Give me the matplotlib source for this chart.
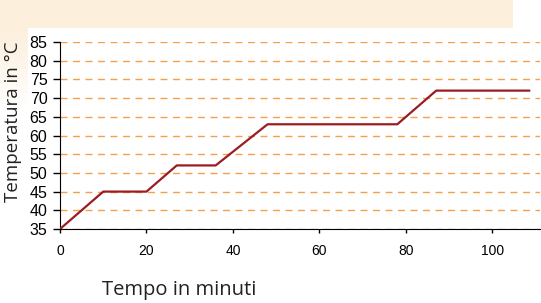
import numpy as np
import matplotlib
matplotlib.use("Agg")
import matplotlib.pyplot as plt
from matplotlib.patches import Rectangle

# data
tempo = [0, 10, 20, 27, 36, 48, 78, 87, 108.5]
temperatura = [35, 45, 45, 52, 52, 63, 63, 72, 72]
x_ticks = [0, 20, 40, 60, 80, 100]
y_ticks = [35, 40, 45, 50, 55, 60, 65, 70, 75, 80, 85]

fig = plt.figure(figsize=(5.41, 3.03), dpi=100)
fig.patch.set_facecolor("white")

# beige band at the top of the page
bg = fig.add_axes([0, 0, 1, 1], zorder=-10)
bg.set_axis_off()
bg.set_xlim(0, 541)
bg.set_ylim(303, 0)
bg.add_patch(Rectangle((0, 0), 513, 28, color="#fcefdc", lw=0))
grad = np.linspace(1, 0, 80)[:, None] * np.ones((1, 30))
bg.imshow(grad, extent=(0, 28, 110, 28), cmap=matplotlib.colors.LinearSegmentedColormap.from_list(
    "b", ["white", "#fcefdc"]), aspect="auto", vmin=0, vmax=1)

ax = fig.add_axes([60 / 541, 1 - 229 / 303, 480 / 541, 187 / 303])
ax.set_facecolor("none")
ax.plot(tempo, temperatura, color="#9b1c22", lw=1.6, zorder=3)

ax.set_xlim(0, 111)
ax.set_ylim(35, 85)
ax.set_xticks(x_ticks)
ax.set_yticks(y_ticks)
ax.tick_params(axis="x", labelsize=10, length=3, width=1, pad=8)
ax.tick_params(axis="y", labelsize=11.5, length=5, width=1, pad=4)
for t in ax.get_xticklabels() + ax.get_yticklabels():
    t.set_fontfamily("Liberation Sans")

ax.yaxis.grid(True, color="#f5a04c", linestyle=(0, (5, 4)), lw=1)
ax.set_axisbelow(True)
for s in ["top", "right"]:
    ax.spines[s].set_visible(False)

fig.text(0.024, 0.597, "Temperatura in °C", rotation=90, fontsize=13.5,
         fontfamily="Open Sans", ha="center", va="center", color="#222222")
fig.text(0.331, 0.043, "Tempo in minuti", fontsize=14.5,
         fontfamily="Open Sans", ha="center", va="center", color="#222222")

fig.savefig("out.png", dpi=100)
